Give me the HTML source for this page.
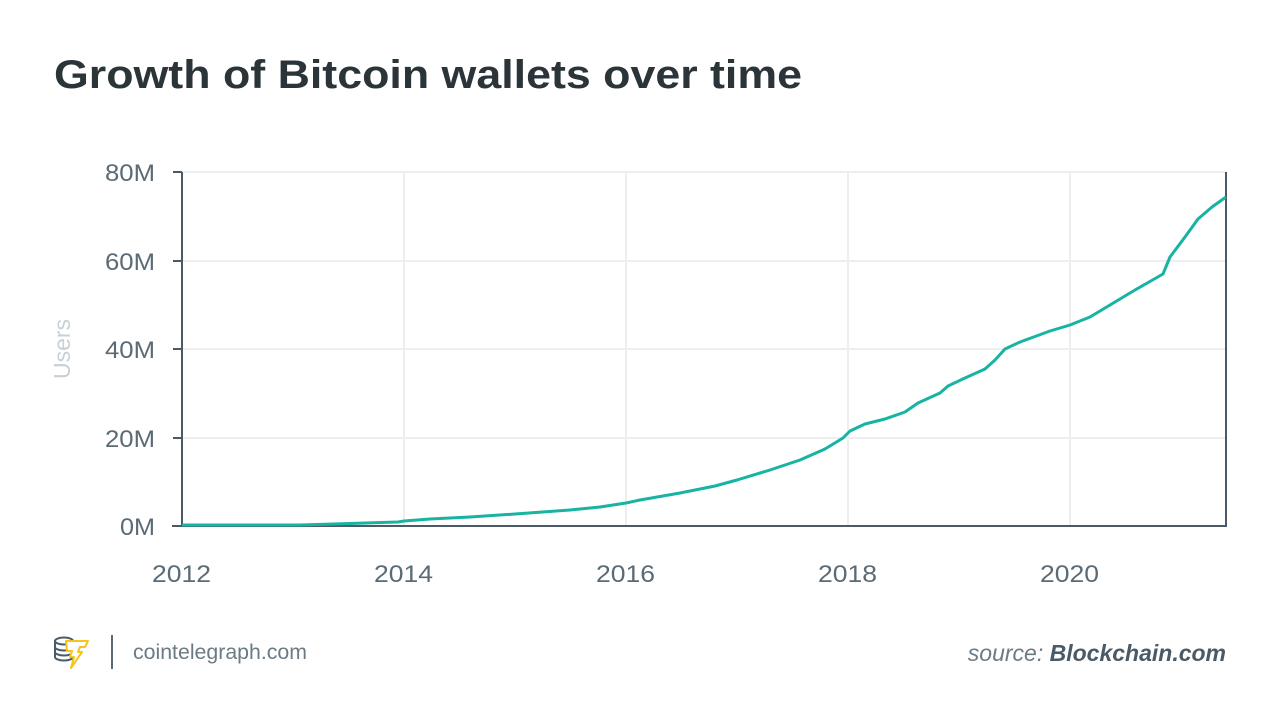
<!DOCTYPE html>
<html><head><meta charset="utf-8"><style>
body{margin:0;width:1280px;height:723px;background:#fff;overflow:hidden;font-family:"Liberation Sans",sans-serif}
</style></head><body>
<svg width="1280" height="723" viewBox="0 0 1280 723" xmlns="http://www.w3.org/2000/svg" font-family="Liberation Sans, sans-serif">
<text x="54" y="88" font-size="40" font-weight="bold" fill="#2b3438" textLength="748" lengthAdjust="spacingAndGlyphs">Growth of Bitcoin wallets over time</text>
<g stroke="#eeeeee" stroke-width="2">
<line x1="182" y1="172" x2="1226" y2="172"/><line x1="182" y1="261" x2="1226" y2="261"/><line x1="182" y1="349" x2="1226" y2="349"/><line x1="182" y1="438" x2="1226" y2="438"/>
<line x1="404" y1="172" x2="404" y2="526"/><line x1="626" y1="172" x2="626" y2="526"/><line x1="848" y1="172" x2="848" y2="526"/><line x1="1070" y1="172" x2="1070" y2="526"/>
</g>
<g stroke="#4a5a66" stroke-width="2" fill="none">
<line x1="182" y1="172" x2="182" y2="527"/><line x1="1226" y1="172" x2="1226" y2="527"/><line x1="172" y1="526" x2="1227" y2="526"/>
<line x1="173" y1="172" x2="182" y2="172"/><line x1="173" y1="261" x2="182" y2="261"/><line x1="173" y1="349" x2="182" y2="349"/><line x1="173" y1="438" x2="182" y2="438"/>
</g>
<g font-size="24" fill="#5b6b75" text-anchor="end">
<text x="155" y="181" textLength="50" lengthAdjust="spacingAndGlyphs">80M</text><text x="155" y="270" textLength="50" lengthAdjust="spacingAndGlyphs">60M</text><text x="155" y="358" textLength="50" lengthAdjust="spacingAndGlyphs">40M</text><text x="155" y="447" textLength="50" lengthAdjust="spacingAndGlyphs">20M</text><text x="155" y="535" textLength="35" lengthAdjust="spacingAndGlyphs">0M</text>
</g>
<g font-size="24" fill="#5b6b75">
<text x="152" y="582" textLength="59" lengthAdjust="spacingAndGlyphs">2012</text><text x="374" y="582" textLength="59" lengthAdjust="spacingAndGlyphs">2014</text><text x="596" y="582" textLength="59" lengthAdjust="spacingAndGlyphs">2016</text><text x="818" y="582" textLength="59" lengthAdjust="spacingAndGlyphs">2018</text><text x="1040" y="582" textLength="59" lengthAdjust="spacingAndGlyphs">2020</text>
</g>
<text transform="translate(70,349) rotate(-90)" font-size="23" fill="#c8d0d5" text-anchor="middle">Users</text>
<polyline fill="none" stroke="#17b3a3" stroke-width="3" stroke-linejoin="round" points="182,525 300,525 350,523.5 398,522 404,521 430,519 470,517 515,514 570,510 600,507 626,503 640,500 680,493 715,486 737,480 770,470 800,460 825,449 843,438 850,431 865,424 885,419 905,412 918,403 940,393 948,386 965,378 985,369 995,360 1005,349 1020,342 1050,331 1070,325 1090,317 1110,305 1135,290 1163,274 1170,257 1185,237 1198,219 1212,207 1226,197"/>
<g fill="none" stroke="#4a5a66" stroke-width="2">
<ellipse cx="64" cy="641" rx="9" ry="3.5"/><path d="M55 641v16a9 3.5 0 0 0 18 0v-16M55 647a9 3.5 0 0 0 18 0M55 652a9 3.5 0 0 0 18 0"/>
</g>
<path d="M66 641h22l-3 6h-5l-2 5 4 0-11 16 3-11h-4l2-6h-5z" fill="#fff" stroke="#f5c518" stroke-width="2" stroke-linejoin="round"/>
<line x1="112" y1="635" x2="112" y2="669" stroke="#5b6b75" stroke-width="2"/>
<text x="133" y="659" font-size="21" fill="#6b7b85" textLength="174" lengthAdjust="spacingAndGlyphs">cointelegraph.com</text>
<text x="1226" y="661" font-size="23" text-anchor="end" fill="#6b7b85"><tspan font-style="italic">source: </tspan><tspan font-style="italic" font-weight="bold" fill="#4a5a66">Blockchain.com</tspan></text>
</svg>
</body></html>
